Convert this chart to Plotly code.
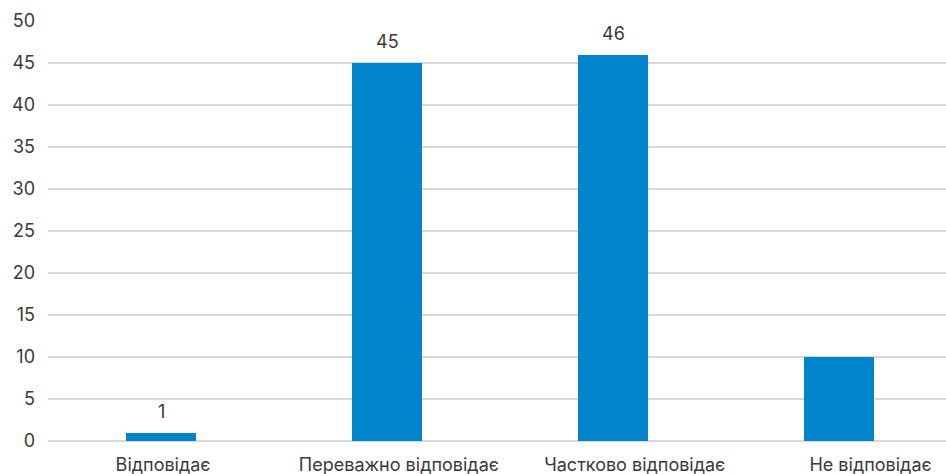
import plotly.graph_objects as go

categories = ["Відповідає", "Переважно відповідає", "Частково відповідає", "Не відповідає"]
values = [1, 45, 46, 10]
labels = ["1", "45", "46", ""]
y_ticks = [0, 5, 10, 15, 20, 25, 30, 35, 40, 45, 50]

font_family = "Inter, Roboto, 'Noto Sans', sans-serif"
text_color = "#3A3A3A"
positions = list(range(len(categories)))

fig = go.Figure()
fig.add_trace(go.Bar(
    x=positions,
    y=values,
    width=0.31,
    marker=dict(color="#0085CC", line=dict(width=0)),
    hoverinfo="skip",
))
# invisible helper trace so the label axis is drawn
fig.add_trace(go.Scatter(
    x=positions, y=[0] * len(positions), xaxis="x2", yaxis="y",
    mode="markers", marker=dict(opacity=0), hoverinfo="skip", showlegend=False,
))

for i, (v, t) in enumerate(zip(values, labels)):
    if t:
        fig.add_annotation(x=i, y=v, text=t, showarrow=False,
                           yanchor="bottom", yshift=9,
                           font=dict(size=18, color=text_color, family=font_family))

fig.update_layout(
    width=946, height=474,
    margin=dict(l=48, r=0, t=21, b=33),
    plot_bgcolor="white", paper_bgcolor="white",
    showlegend=False,
    font=dict(family=font_family, size=18, color=text_color),
    xaxis=dict(
        range=[-0.5, 3.473],
        tickmode="array",
        tickvals=positions,
        showticklabels=False,
        showgrid=False, zeroline=False, showline=False,
        ticks="", automargin=False,
    ),
    xaxis2=dict(
        range=[-0.488, 3.320],
        overlaying="x", anchor="y", side="bottom",
        tickmode="array",
        tickvals=positions,
        ticktext=categories,
        showgrid=False, zeroline=False, showline=False,
        ticks="", ticklabelstandoff=11, automargin=False,
        tickfont=dict(size=18, color=text_color, family=font_family),
    ),
    yaxis=dict(
        range=[0, 50],
        tickmode="array",
        tickvals=y_ticks,
        showgrid=True, gridcolor="#D9D9D9", gridwidth=1.5,
        zeroline=True, zerolinecolor="#D9D9D9", zerolinewidth=1.5,
        showline=False, ticks="", ticklabelstandoff=12, automargin=False,
        tickfont=dict(size=18, color=text_color, family=font_family),
    ),
    bargap=0,
)

fig.write_html("out.html")
